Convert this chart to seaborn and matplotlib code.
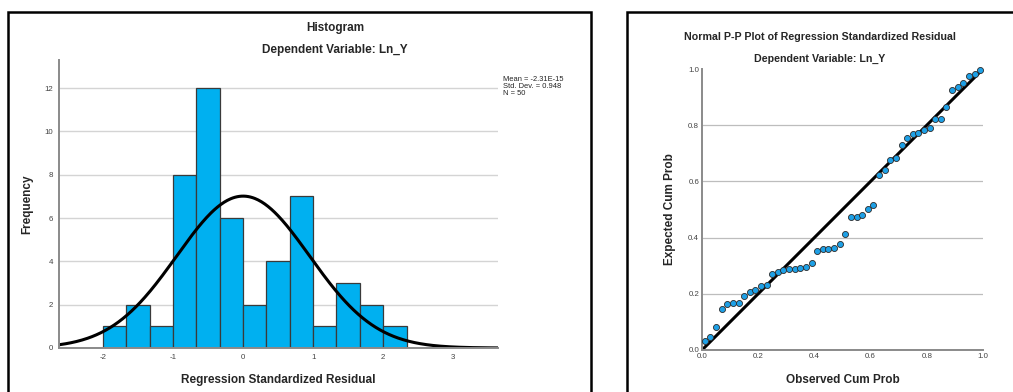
"""
SPSS-style residual diagnostics: histogram with normal curve + normal P-P plot.
"""

import matplotlib.pyplot as plt
import seaborn as sns
import numpy as np
import pandas as pd
from matplotlib.patches import Rectangle

sns.set_style("white")
plt.rcParams['font.family'] = ['Liberation Sans', 'DejaVu Sans']
plt.rcParams['axes.unicode_minus'] = False

# histogram of standardized residuals
bin_lo = -2.0
bin_width = 1 / 3
counts = [1, 2, 1, 8, 12, 6, 2, 4, 7, 1, 3, 2, 1]
res_mean = -2.31e-15
res_sd = 0.948
n_obs = 50
hist_xticks = [-2, -1, 0, 1, 2, 3]
hist_yticks = [0, 2, 4, 6, 8, 10, 12]

# normal P-P plot
observed = [0.01, 0.03, 0.05, 0.07, 0.09, 0.11, 0.13, 0.15, 0.17, 0.19,
            0.21, 0.23, 0.25, 0.27, 0.29, 0.31, 0.33, 0.35, 0.37, 0.39,
            0.41, 0.43, 0.45, 0.47, 0.49, 0.51, 0.53, 0.55, 0.57, 0.59,
            0.61, 0.63, 0.65, 0.67, 0.69, 0.71, 0.73, 0.75, 0.77, 0.79,
            0.81, 0.83, 0.85, 0.87, 0.89, 0.91, 0.93, 0.95, 0.97, 0.99]
expected = [0.033, 0.048, 0.083, 0.147, 0.163, 0.167, 0.167, 0.191, 0.207, 0.215,
            0.228, 0.232, 0.271, 0.277, 0.283, 0.290, 0.290, 0.292, 0.295, 0.310,
            0.354, 0.359, 0.359, 0.362, 0.376, 0.413, 0.474, 0.474, 0.481, 0.501,
            0.517, 0.622, 0.641, 0.676, 0.683, 0.729, 0.754, 0.768, 0.773, 0.784,
            0.789, 0.821, 0.823, 0.865, 0.926, 0.936, 0.950, 0.976, 0.981, 0.995]
pp_ticks = [0.0, 0.2, 0.4, 0.6, 0.8, 1.0]

BAR = '#00b0f0'
DOT = '#1ea0e6'
GRID = '#d4d4d4'
SPINE = '#8a8a8a'
TICKC = '#444444'

W, H = 1013, 392
fig = plt.figure(figsize=(W / 100, H / 100), dpi=100)

# panel frames (SPSS output boxes, cut off by the screenshot)
fig.add_artist(Rectangle((8 / W, -0.2), (591 - 8) / W, 1.2 - 12 / H,
                         transform=fig.transFigure, fill=False, ec='black', lw=1.8))
fig.add_artist(Rectangle((627 / W, -0.2), 0.6, 1.2 - 12 / H,
                         transform=fig.transFigure, fill=False, ec='black', lw=1.8))

def style_axes(ax):
    for s in ['top', 'right']:
        ax.spines[s].set_visible(False)
    for s in ['left', 'bottom']:
        ax.spines[s].set_color(SPINE)
        ax.spines[s].set_linewidth(1.4)
    ax.tick_params(length=0, labelsize=5.7, colors=TICKC, pad=4)
    ax.yaxis.grid(True, color=GRID, lw=1)
    ax.set_axisbelow(True)

# ---- Histogram ----
ax1 = fig.add_axes([59 / W, 1 - 348 / H, (498 - 59) / W, (348 - 60) / H])
edges = bin_lo + bin_width * np.arange(len(counts) + 1)
hist_df = pd.DataFrame({'resid': (edges[:-1] + edges[1:]) / 2, 'freq': counts})
sns.histplot(data=hist_df, x='resid', weights='freq', bins=list(edges), color=BAR, alpha=1,
             edgecolor='#3a3a3a', linewidth=0.9, ax=ax1)
xs = np.linspace(-2.63, 3.64, 400)
curve = n_obs * bin_width * np.exp(-0.5 * ((xs - res_mean) / res_sd) ** 2) / (res_sd * np.sqrt(2 * np.pi))
sns.lineplot(x=xs, y=curve, color='black', lw=2.2, ax=ax1)
ax1.set_xlim(-2.63, 3.64)
ax1.set_ylim(0, 13.3)
ax1.set_xticks(hist_xticks)
ax1.set_yticks(hist_yticks)
style_axes(ax1)
ax1.set_xlabel('Regression Standardized Residual', fontsize=8.5, fontweight='bold', labelpad=10)
ax1.set_ylabel('Frequency', fontsize=8.5, fontweight='bold', labelpad=8)
fig.text(335 / W, 1 - 28 / H, 'Histogram', ha='center', va='center', fontsize=8.5, fontweight='bold')
fig.text(335 / W, 1 - 50 / H, 'Dependent Variable: Ln_Y', ha='center', va='center',
         fontsize=8.5, fontweight='bold')
fig.text(503 / W, 1 - 76 / H,
         f'Mean = -2.31E-15\nStd. Dev. = {res_sd:.3f}\nN = {n_obs}',
         ha='left', va='top', fontsize=5.4, color='#222222', linespacing=1.0)

# ---- P-P plot ----
ax2 = fig.add_axes([702 / W, 1 - 350 / H, (983 - 702) / W, (350 - 69) / H])
sns.lineplot(x=[0, 1], y=[0, 1], color='black', lw=2.2, ax=ax2)
sns.scatterplot(x=observed, y=expected, color=DOT, edgecolor='#2a2a2a', linewidth=0.6,
                s=19, zorder=3, ax=ax2, clip_on=False)
ax2.set_xlim(0, 1)
ax2.set_ylim(0, 1)
ax2.set_xticks(pp_ticks)
ax2.set_yticks(pp_ticks)
ax2.set_xticklabels([f'{t:.1f}' for t in pp_ticks])
ax2.set_yticklabels([f'{t:.1f}' for t in pp_ticks])
style_axes(ax2)
ax2.tick_params(pad=2)
ax2.yaxis.grid(True, color='#bdbdbd', lw=0.9)
ax2.get_ygridlines()[-1].set_visible(False)
ax2.set_xlabel('Observed Cum Prob', fontsize=8.5, fontweight='bold', labelpad=10)
ax2.set_ylabel('Expected Cum Prob', fontsize=8.5, fontweight='bold', labelpad=9)
fig.text(820 / W, 1 - 37 / H, 'Normal P-P Plot of Regression Standardized Residual',
         ha='center', va='center', fontsize=7.7, fontweight='bold')
fig.text(820 / W, 1 - 59 / H, 'Dependent Variable: Ln_Y', ha='center', va='center',
         fontsize=7.7, fontweight='bold')

fig.savefig('out.png', dpi=100)
